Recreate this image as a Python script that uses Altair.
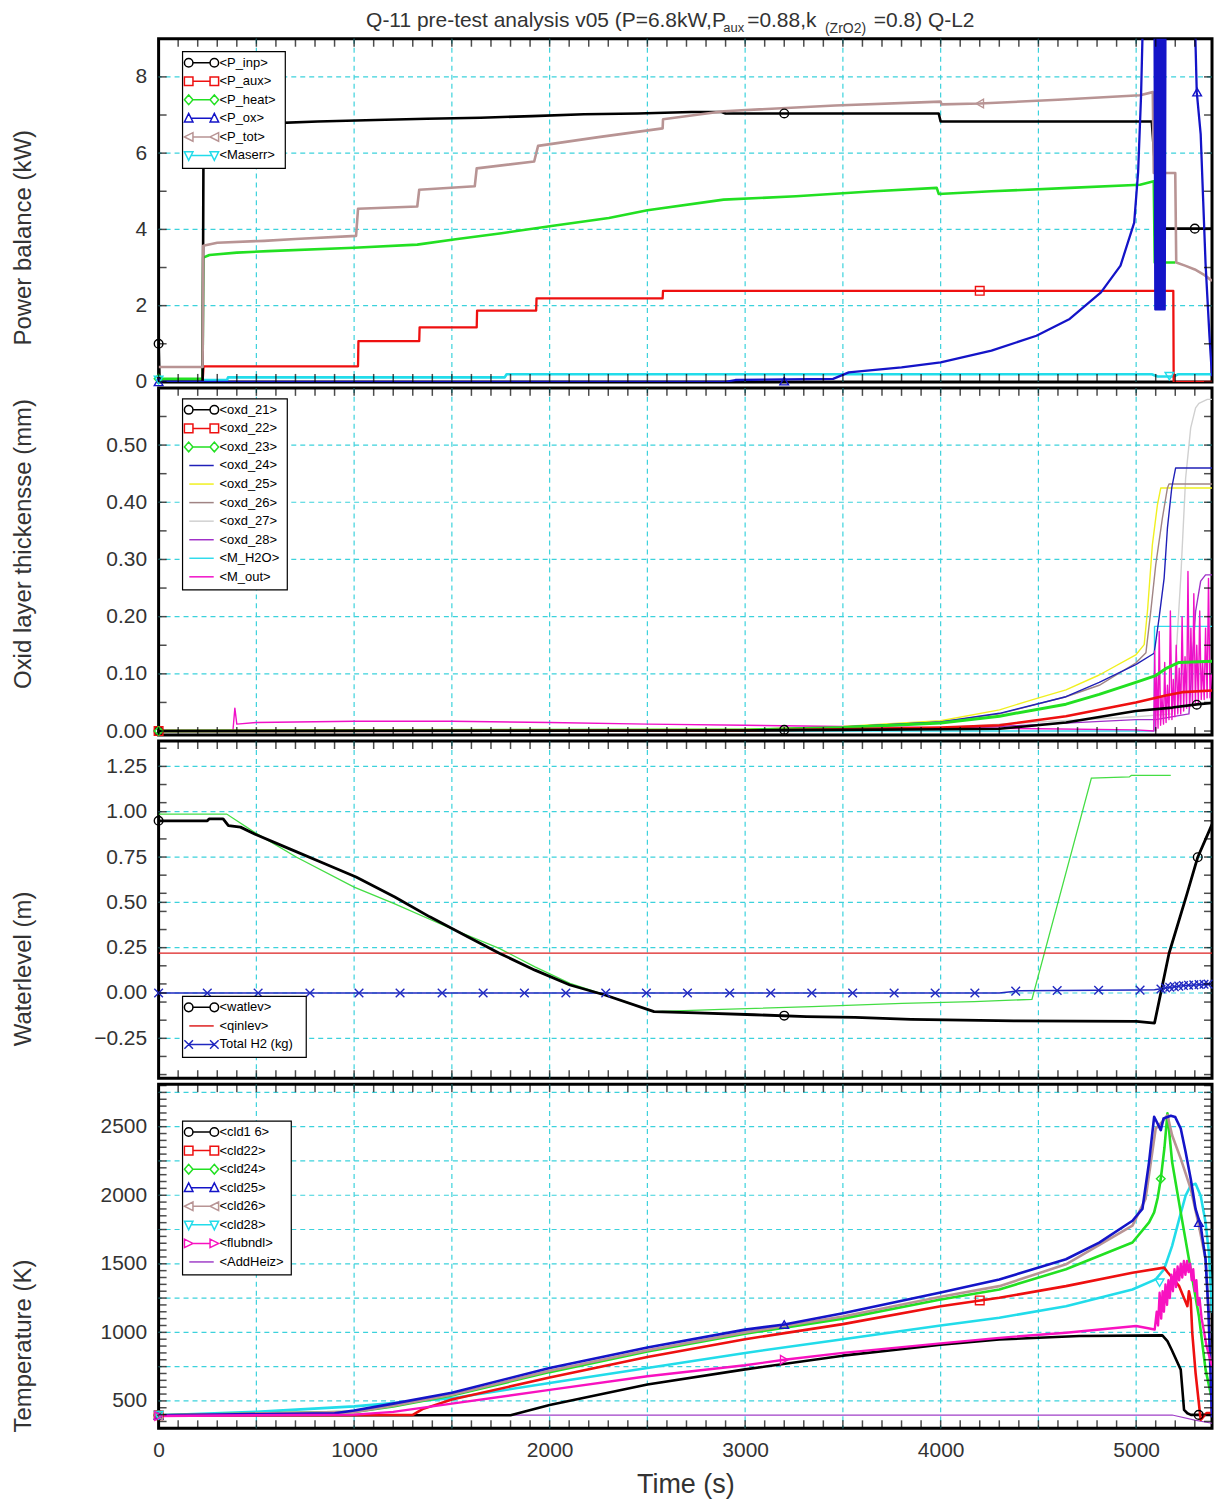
import altair as alt
import pandas as pd

FONT = "Liberation Sans"
X_MAX = 5388
GRID_COLOR = "#3cd2dc"
TEXT_COLOR = "#333333"
PLOT_W = 1056

XTICKS = [float(x) for x in range(0, 5400, 100)]
XLABELS = [float(x) for x in range(0, 5001, 1000)]
XGRID = [500.0 * k for k in range(1, 11)]

# ---------------- Panel 1 : power balance (kW) ----------------
P1_NAMES = ["<P_inp>", "<P_aux>", "<P_heat>", "<P_ox>", "<P_tot>", "<Maserr>"]
P1_COLORS = ["#000000", "#ee1010", "#22e022", "#1414c8", "#b89494", "#22dcea"]
P1_SHAPES = ["circle", "square", "diamond", "triangle-up", "triangle-left", "triangle-down"]

P_inp_t = [0, 5, 225, 230, 560, 814, 1108, 1372, 1647, 1911, 2176, 2450, 2725, 2880, 2900, 3990, 4000, 5080, 5095, 5130, 5388]
P_inp_v = [1.0, 0.0, 0.0, 6.78, 6.78, 6.83, 6.87, 6.90, 6.93, 6.97, 7.02, 7.04, 7.08, 7.08, 7.04, 7.04, 6.83, 6.83, 5.75, 4.02, 4.02]

P_aux_t = [0, 225, 230, 1020, 1022, 1333, 1335, 1627, 1629, 1931, 1933, 2578, 2580, 5190, 5192, 5388]
P_aux_v = [0.0, 0.0, 0.41, 0.41, 1.07, 1.07, 1.43, 1.43, 1.87, 1.87, 2.19, 2.19, 2.39, 2.39, 0.0, 0.0]

P_heat_t = [0, 225, 228, 260, 400, 560, 1000, 1323, 1519, 1754, 2009, 2303, 2500, 2890, 3260, 3660, 3980, 3990, 4260, 4660, 5020, 5090, 5095, 5200]
P_heat_v = [0.08, 0.08, 3.26, 3.33, 3.39, 3.43, 3.52, 3.60, 3.74, 3.90, 4.09, 4.30, 4.50, 4.78, 4.87, 5.00, 5.09, 4.93, 5.00, 5.09, 5.17, 5.26, 3.13, 3.13]

P_ox_t = [0, 2900, 2950, 3450, 3530, 3800, 4000, 4260, 4490, 4660, 4820, 4920, 4990, 5010, 5025, 5035, 5094,
          5098, 5102, 5106, 5110, 5114, 5118, 5122, 5126, 5130, 5134, 5138, 5142, 5146, 5150,
          5300, 5310, 5330, 5355, 5375, 5388]
P_ox_v = [0.0, 0.0, 0.05, 0.08, 0.25, 0.38, 0.51, 0.82, 1.21, 1.65, 2.35, 3.05, 4.18, 5.5, 7.5, 9.6, 9.6,
          1.9, 9.6, 1.9, 9.6, 1.9, 9.6, 1.9, 9.6, 1.9, 9.6, 1.9, 9.6, 1.9, 9.6,
          9.6, 7.6, 6.5, 3.1, 1.2, 0.15]

P_tot_t = [0, 225, 228, 300, 540, 700, 1010, 1020, 1323, 1333, 1617, 1627, 1921, 1941, 2250, 2578, 2580, 2890,
           3460, 4000, 4005, 4200, 4600, 5020, 5085, 5090, 5200, 5205, 5250, 5300, 5350, 5388]
P_tot_v = [0.39, 0.39, 3.57, 3.65, 3.70, 3.75, 3.83, 4.54, 4.60, 5.04, 5.13, 5.60, 5.78, 6.19, 6.42, 6.65, 6.89, 7.10,
           7.25, 7.35, 7.28, 7.30, 7.40, 7.52, 7.60, 5.48, 5.48, 3.13, 3.05, 2.95, 2.80, 2.65]

Maserr_t = [0, 350, 355, 1770, 1780, 5080, 5110, 5190, 5215, 5388]
Maserr_v = [0.05, 0.05, 0.12, 0.12, 0.20, 0.20, 0.14, 0.14, 0.20, 0.20]

# ---------------- Panel 2 : oxide layer thickness (mm) ----------------
P2_NAMES = ["<oxd_21>", "<oxd_22>", "<oxd_23>", "<oxd_24>", "<oxd_25>", "<oxd_26>", "<oxd_27>", "<oxd_28>", "<M_H2O>", "<M_out>"]
P2_COLORS = ["#000000", "#ee1010", "#22e022", "#2020b8", "#f0f020", "#a08484", "#d0d0d0", "#a030c8", "#30dcec", "#f010c8"]
P2_SHAPES = ["circle", "square", "diamond", "line", "line", "line", "line", "line", "line", "line"]

oxd21_t = [0, 3000, 3500, 4000, 4301, 4641, 4998, 5185, 5321, 5388]
oxd21_v = [0.0, 0.001, 0.002, 0.003, 0.004, 0.015, 0.035, 0.041, 0.047, 0.049]
oxd22_t = [0, 3000, 3500, 4000, 4301, 4641, 4998, 5151, 5236, 5388]
oxd22_v = [0.0, 0.001, 0.003, 0.006, 0.010, 0.026, 0.050, 0.062, 0.068, 0.071]
oxd23_t = [0, 3000, 3500, 4000, 4301, 4641, 4811, 4998, 5100, 5151, 5219, 5388]
oxd23_v = [0.0, 0.002, 0.006, 0.014, 0.026, 0.047, 0.064, 0.085, 0.097, 0.109, 0.120, 0.122]
oxd24_t = [0, 3000, 3500, 4000, 4301, 4641, 4811, 4998, 5092, 5117, 5143, 5160, 5182, 5202, 5388]
oxd24_v = [0.0, 0.002, 0.007, 0.016, 0.031, 0.060, 0.085, 0.116, 0.136, 0.197, 0.267, 0.355, 0.425, 0.460, 0.460]
oxd25_t = [0, 3000, 3500, 4000, 4301, 4471, 4641, 4811, 4998, 5041, 5058, 5083, 5109, 5126, 5388]
oxd25_v = [0.0, 0.003, 0.008, 0.018, 0.037, 0.055, 0.072, 0.098, 0.133, 0.151, 0.210, 0.326, 0.396, 0.425, 0.425]
oxd26_t = [0, 3000, 3500, 4000, 4301, 4641, 4811, 4998, 5050, 5075, 5100, 5134, 5160, 5168, 5388]
oxd26_v = [0.0, 0.002, 0.007, 0.016, 0.030, 0.060, 0.080, 0.119, 0.137, 0.210, 0.290, 0.372, 0.425, 0.432, 0.432]
oxd27_t = [0, 3000, 4000, 4301, 4998, 5185, 5202, 5228, 5253, 5279, 5304, 5321, 5364, 5388]
oxd27_v = [0.0, 0.001, 0.006, 0.012, 0.025, 0.030, 0.120, 0.267, 0.442, 0.530, 0.565, 0.573, 0.580, 0.580]
oxd28_t = [0, 3000, 4000, 4301, 4998, 5100, 5270, 5287, 5304, 5330, 5355, 5388]
oxd28_v = [0.0, 0.001, 0.005, 0.008, 0.020, 0.020, 0.030, 0.120, 0.209, 0.262, 0.273, 0.273]
MH2O_t = [0, 5092, 5094, 5388]
MH2O_v = [0.0, 0.0, 0.183, 0.183]
Mout_t = [0, 380, 390, 400, 500, 1000, 1500, 2000, 2500, 3000, 3500, 4000, 4500, 5000, 5090,
          5095, 5100, 5105, 5112, 5118, 5125, 5132, 5140, 5146, 5153, 5160, 5168, 5175, 5183, 5190,
          5198, 5205, 5213, 5220, 5228, 5235, 5243, 5250, 5258, 5265, 5273, 5280, 5288, 5295, 5303,
          5310, 5318, 5325, 5333, 5340, 5348, 5355, 5363, 5370, 5378, 5385]
Mout_v = [0.0, 0.0, 0.04, 0.012, 0.015, 0.017, 0.017, 0.015, 0.012, 0.010, 0.008, 0.006, 0.004, 0.002, 0.0,
          0.14, 0.0, 0.10, 0.005, 0.174, 0.01, 0.06, 0.012, 0.12, 0.015, 0.08, 0.02, 0.21, 0.02, 0.09,
          0.025, 0.15, 0.03, 0.11, 0.03, 0.20, 0.035, 0.13, 0.04, 0.279, 0.04, 0.18, 0.045, 0.24, 0.05,
          0.15, 0.05, 0.21, 0.055, 0.12, 0.055, 0.18, 0.058, 0.267, 0.058, 0.10]

# ---------------- Panel 3 : water level (m) ----------------
P3_NAMES = ["<watlev>", "<qinlev>", "Total H2 (kg)"]
P3_COLORS = ["#000000", "#dd2020", "#2028c0"]
P3_SHAPES = ["circle", "line", "cross"]

watlev_t = [0, 249, 258, 330, 357, 419, 491, 670, 850, 1010, 1208, 1387, 1566, 1745, 1925, 2104, 2283, 2534,
            2751, 3046, 3313, 3563, 3849, 4375, 5002, 5094, 5168, 5260, 5315, 5388]
watlev_v = [0.95, 0.95, 0.96, 0.96, 0.923, 0.915, 0.877, 0.795, 0.713, 0.64, 0.53, 0.42, 0.318, 0.218, 0.126, 0.044,
            -0.011, -0.103, -0.11, -0.12, -0.13, -0.135, -0.145, -0.154, -0.157, -0.166, 0.218, 0.547, 0.749, 0.93]
qinlev_t = [0, 5388]
qinlev_v = [0.22, 0.22]
H2_t = [0, 4300, 4400, 5000, 5094, 5150, 5250, 5388]
H2_v = [0.0, 0.0, 0.012, 0.016, 0.018, 0.028, 0.042, 0.05]
H2_mark_t = [0, 249, 509, 774, 1025, 1235, 1450, 1660, 1871, 2083, 2287, 2495, 2705, 2921, 3131, 3341, 3550, 3762,
             3972, 4175, 4384, 4596, 4808, 5020, 5127, 5150, 5172, 5195, 5218, 5242, 5268, 5295, 5322, 5347, 5368]
H2_mark_v = [0.0, 0.0, 0.0, 0.0, 0.0, 0.0, 0.0, 0.0, 0.0, 0.0, 0.0, 0.0, 0.0, 0.0, 0.0, 0.0, 0.0, 0.0,
             0.0, 0.0, 0.010, 0.014, 0.015, 0.016, 0.022, 0.028, 0.032, 0.035, 0.038, 0.041, 0.043, 0.045, 0.047, 0.048, 0.049]
green3_t = [0, 348, 491, 706, 1000, 1208, 1477, 1745, 1925, 2104, 2283, 2534, 2880, 3341, 3803, 4172, 4467, 4771, 4965, 4975, 5177]
green3_v = [0.987, 0.987, 0.886, 0.749, 0.584, 0.492, 0.364, 0.245, 0.144, 0.053, -0.011, -0.103, -0.09, -0.075,
            -0.057, -0.048, -0.035, 1.185, 1.192, 1.20, 1.20]

# ---------------- Panel 4 : temperature (K) ----------------
P4_NAMES = ["<cld1 6>", "<cld22>", "<cld24>", "<cld25>", "<cld26>", "<cld28>", "<flubndl>", "<AddHeiz>"]
P4_COLORS = ["#000000", "#ee1010", "#22e022", "#1414c8", "#b89494", "#22dcea", "#f812c0", "#a040c8"]
P4_SHAPES = ["circle", "square", "diamond", "triangle-up", "triangle-left", "triangle-down", "triangle-right", "line"]

cld16_t = [0, 1800, 2000, 2500, 3000, 3500, 4000, 4300, 4709, 5134, 5160, 5181, 5228, 5245, 5262, 5280, 5388]
cld16_v = [395, 395, 470, 620, 730, 830, 910, 948, 973, 978, 936, 875, 728, 435, 410, 398, 398]
cld22_t = [0, 1300, 1350, 1500, 2000, 2500, 3000, 3500, 4000, 4300, 4641, 4981, 5143, 5160, 5177, 5220, 5262, 5270,
           5279, 5287, 5304, 5330, 5360, 5388]
cld22_v = [395, 398, 440, 510, 670, 820, 950, 1060, 1190, 1252, 1337, 1435, 1472, 1440, 1411, 1337, 1191, 1300,
           1240, 996, 703, 362, 412, 412]
cld24_t = [0, 1000, 1200, 1500, 2000, 2500, 3000, 3500, 4000, 4300, 4641, 4981, 5066, 5092, 5110, 5126, 5145, 5160,
           5184, 5228, 5270, 5321, 5355, 5388]
cld24_v = [395, 420, 460, 540, 710, 860, 990, 1100, 1240, 1313, 1460, 1655, 1802, 1875, 1980, 2120, 2350, 2597,
           2242, 1875, 1533, 1118, 728, 508]
cld25_t = [0, 900, 1000, 1200, 1500, 2000, 2500, 3000, 3200, 3500, 4000, 4300, 4641, 4811, 4981, 5032, 5066, 5092,
           5105, 5126, 5140, 5177, 5200, 5228, 5253, 5279, 5304, 5330, 5355, 5370, 5388]
cld25_v = [395, 410, 430, 480, 560, 740, 890, 1020, 1057, 1140, 1290, 1386, 1533, 1655, 1814, 1900, 2242, 2572,
           2536, 2475, 2560, 2580, 2570, 2487, 2316, 2120, 1900, 1778, 1533, 1143, 380]
cld26_t = [0, 1000, 1200, 1500, 2000, 2500, 3000, 3500, 4000, 4300, 4641, 4981, 5048, 5100, 5134, 5160, 5184, 5228,
           5279, 5321, 5355, 5372, 5388]
cld26_v = [395, 420, 465, 545, 720, 870, 1000, 1115, 1260, 1337, 1496, 1778, 1973, 2487, 2536, 2584, 2438, 2267,
           2047, 1778, 1533, 1143, 410]
cld28_t = [0, 500, 1000, 1500, 2000, 2500, 3000, 3500, 4000, 4300, 4641, 4981, 5100, 5143, 5184, 5220, 5253, 5279,
           5304, 5330, 5355, 5372, 5388]
cld28_v = [395, 420, 460, 520, 630, 740, 850, 950, 1050, 1106, 1191, 1313, 1386, 1460, 1631, 1826, 1997, 2071,
           2084, 1997, 1802, 1582, 1143]
flubndl_t = [0, 1000, 1200, 1500, 2000, 2500, 3000, 3200, 3500, 4000, 4300, 4641, 5000, 5095,
             5105, 5112, 5120, 5128, 5135, 5142, 5150, 5158, 5165, 5172, 5180, 5188, 5196, 5204, 5212, 5220,
             5228, 5236, 5244, 5252, 5260, 5268, 5276, 5284, 5292, 5300, 5308, 5316, 5324, 5335, 5345, 5360,
             5375, 5388]
flubndl_v = [390, 400, 420, 480, 580, 680, 760, 800, 850, 920, 960, 997, 1046, 1021,
             1150, 1050, 1289, 1100, 1300, 1150, 1350, 1200, 1380, 1250, 1420, 1300, 1460, 1330, 1480, 1380,
             1500, 1400, 1520, 1420, 1521, 1440, 1500, 1380, 1460, 1300, 1380, 1200, 1250, 1100, 1021, 900,
             820, 753]
addheiz_t = [0, 5184, 5300, 5388]
addheiz_v = [397, 397, 360, 337]

# ---------------- legend symbol paths (marker - line - marker) ----------------
SYM = {
    "circle": "M-2.8,0A0.7,0.7 0 1 1 -1.4,0A0.7,0.7 0 1 1 -2.8,0M-1.4,0L1.4,0M1.4,0A0.7,0.7 0 1 1 2.8,0A0.7,0.7 0 1 1 1.4,0",
    "square": "M-2.8,-0.7L-1.4,-0.7L-1.4,0.7L-2.8,0.7ZM-1.4,0L1.4,0M1.4,-0.7L2.8,-0.7L2.8,0.7L1.4,0.7Z",
    "diamond": "M-2.8,0L-2.1,-0.8L-1.4,0L-2.1,0.8ZM-1.4,0L1.4,0M1.4,0L2.1,-0.8L2.8,0L2.1,0.8Z",
    "triangle-up": "M-2.8,0.6L-2.1,-0.8L-1.4,0.6ZM-1.7,0L1.7,0M1.4,0.6L2.1,-0.8L2.8,0.6Z",
    "triangle-down": "M-2.8,-0.6L-2.1,0.8L-1.4,-0.6ZM-1.7,0L1.7,0M1.4,-0.6L2.1,0.8L2.8,-0.6Z",
    "triangle-left": "M-2.8,0L-1.4,-0.7L-1.4,0.7ZM-1.4,0L1.4,0M1.4,0L2.8,-0.7L2.8,0.7Z",
    "triangle-right": "M-2.8,-0.7L-1.4,0L-2.8,0.7ZM-1.4,0L1.4,0M1.4,-0.7L2.8,0L1.4,0.7Z",
    "cross": "M-2.8,-0.7L-1.4,0.7M-2.8,0.7L-1.4,-0.7M-2.1,0L2.1,0M1.4,-0.7L2.8,0.7M1.4,0.7L2.8,-0.7",
    "line": "M-2.0,0L2.0,0",
}
XMARK = "M-1,-1L1,1M-1,1L1,-1"
ONE = pd.DataFrame({"a": [0]})


def build_df(names, ts, vs, widths):
    rows = []
    for name, t, v, w in zip(names, ts, vs, widths):
        for i, (a, b) in enumerate(zip(t, v)):
            rows.append({"series": name, "t": float(a), "v": float(b), "i": i, "w": w})
    return pd.DataFrame(rows)


def legend_layers(lx, ly, width, names, colors, shapes):
    n = len(names)
    step = 18.6
    h = 11 + step * (n - 1) + 13
    out = [alt.Chart(ONE).mark_rect(fill="white", stroke="black", strokeWidth=1.2).encode(
        x=alt.value(lx), x2=alt.value(lx + width), y=alt.value(ly), y2=alt.value(ly + h))]
    for k, (name, col, shp) in enumerate(zip(names, colors, shapes)):
        yk = ly + 11 + step * k
        out.append(alt.Chart(ONE).mark_point(shape=SYM[shp], size=150, filled=False, color=col,
                                             strokeWidth=1.5, opacity=1).encode(
            x=alt.value(lx + 19), y=alt.value(yk)))
        out.append(alt.Chart(ONE).mark_text(text=name, align="left", baseline="middle", font=FONT,
                                            fontSize=13, color="black").encode(
            x=alt.value(lx + 37), y=alt.value(yk)))
    return out


def panel(df, names, colors, shapes, markers, ydom, yticks, ylabels, fmt, ygrid, ytitle, title_y,
          leg_x, leg_y, leg_w, height, bottom, extra=None, texts=None):
    xs = alt.Scale(domain=[0, X_MAX], nice=False, zero=False)
    ys = alt.Scale(domain=ydom, nice=False, zero=False)
    cscale = alt.Scale(domain=names, range=colors)

    if bottom:
        x_axis = alt.Axis(orient="bottom", values=XLABELS, ticks=False, domain=False, grid=False,
                          format="d", labelFont=FONT, labelFontSize=21, labelColor=TEXT_COLOR,
                          labelPadding=11, labelOverlap=False, labelFlush=False,
                          title="Time (s)", titleFont=FONT, titleFontSize=27,
                          titleFontWeight="normal", titleColor=TEXT_COLOR, titlePadding=11)
    else:
        x_axis = None
    y_axis = alt.Axis(orient="left", values=ylabels, ticks=False, domain=False, grid=False, format=fmt,
                      labelFont=FONT, labelFontSize=21, labelColor=TEXT_COLOR, labelPadding=12,
                      labelOverlap=False, labelFlush=False,
                      title=ytitle, titleFont=FONT, titleFontSize=24, titleFontWeight="normal",
                      titleColor=TEXT_COLOR, titleAngle=270, titleX=-135, titleY=title_y,
                      titleAlign="center", titleBaseline="middle")

    under = [
        alt.Chart(pd.DataFrame({"t": XGRID})).mark_rule(
            color=GRID_COLOR, strokeDash=[5, 4], strokeWidth=1.2).encode(x=alt.X("t:Q", scale=xs, axis=None)),
        alt.Chart(pd.DataFrame({"v": ygrid})).mark_rule(
            color=GRID_COLOR, strokeDash=[5, 4], strokeWidth=1.2).encode(y=alt.Y("v:Q", scale=ys, axis=None)),
    ]
    if extra is not None:
        for e in extra:
            under.append(e(xs, ys))
    layers = [alt.Chart(df).mark_line(clip=True, strokeJoin="round").encode(
        x=alt.X("t:Q", scale=xs, axis=x_axis),
        y=alt.Y("v:Q", scale=ys, axis=y_axis),
        color=alt.Color("series:N", scale=cscale, legend=None),
        strokeWidth=alt.StrokeWidth("w:Q", scale=None),
        detail="series:N",
        order=alt.Order("i:Q"))]
    for (name, shp, col, mt, mv) in markers:
        mdf = pd.DataFrame({"t": [float(a) for a in mt], "v": [float(b) for b in mv]})
        layers.append(alt.Chart(mdf).mark_point(shape=shp, filled=False, color=col, size=75,
                                                 strokeWidth=1.4, opacity=1).encode(
            x=alt.X("t:Q", scale=xs, axis=None), y=alt.Y("v:Q", scale=ys, axis=None)))
    # inward ticks on all four sides
    xt = pd.DataFrame({"t": XTICKS})
    yt = pd.DataFrame({"v": [float(v) for v in yticks]})
    for ypos in (4, height - 4):
        layers.append(alt.Chart(xt).mark_tick(orient="vertical", size=8, thickness=1.5, color="black").encode(
            x=alt.X("t:Q", scale=xs, axis=None), y=alt.value(ypos)))
    for xpos in (4, PLOT_W - 4):
        layers.append(alt.Chart(yt).mark_tick(orient="horizontal", size=8, thickness=1.5, color="black").encode(
            y=alt.Y("v:Q", scale=ys, axis=None), x=alt.value(xpos)))
    layers.extend(legend_layers(leg_x, leg_y, leg_w, names, colors, shapes))
    if texts is not None:
        for (txt, px, py, fs) in texts:
            layers.append(alt.Chart(ONE).mark_text(
                text=txt, align="left", baseline="alphabetic", font=FONT, fontSize=fs,
                color=TEXT_COLOR).encode(x=alt.value(px), y=alt.value(py)))
    return alt.layer(*(under + layers)).resolve_axis(x="independent", y="independent").properties(
        width=PLOT_W, height=height)


# ---- panel 1 ----
df1 = build_df(P1_NAMES, [P_inp_t, P_aux_t, P_heat_t, P_ox_t, P_tot_t, Maserr_t],
               [P_inp_v, P_aux_v, P_heat_v, P_ox_v, P_tot_v, Maserr_v],
               [2.6, 2.3, 2.6, 2.3, 2.6, 2.6])
df1 = pd.concat([df1[df1.series == s] for s in ["<Maserr>", "<P_heat>", "<P_aux>", "<P_inp>", "<P_tot>", "<P_ox>"]])
m1 = [("<P_inp>", "circle", "#000000", [0, 3200, 5300], [1.0, 7.04, 4.02]),
      ("<P_aux>", "square", "#ee1010", [4200], [2.39]),
      ("<P_heat>", "diamond", "#22e022", [0], [0.08]),
      ("<P_ox>", "triangle-up", "#1414c8", [0, 3200, 5312], [0.0, 0.02, 7.6]),
      ("<P_tot>", "triangle-left", "#b89494", [4200], [7.30]),
      ("<Maserr>", "triangle-down", "#22dcea", [0, 5170], [0.05, 0.15])]
title_texts = [("Q-11 pre-test analysis v05 (P=6.8kW,P", 208, -12, 21),
               ("aux", 566, -7, 13),
               ("=0.88,k", 590, -12, 21),
               ("(ZrO2)", 668, -6, 14),
               ("=0.8) Q-L2", 717, -12, 21)]
p1 = panel(df1, P1_NAMES, P1_COLORS, P1_SHAPES, m1,
           [0, 9], list(range(0, 10)), [0.0, 2.0, 4.0, 6.0, 8.0], "d",
           [2.0, 4.0, 6.0, 8.0], "Power balance (kW)", 199, 24, 13, 103, 344, False, texts=title_texts)

# ---- panel 2 ----
df2 = build_df(P2_NAMES,
               [oxd21_t, oxd22_t, oxd23_t, oxd24_t, oxd25_t, oxd26_t, oxd27_t, oxd28_t, MH2O_t, Mout_t],
               [oxd21_v, oxd22_v, oxd23_v, oxd24_v, oxd25_v, oxd26_v, oxd27_v, oxd28_v, MH2O_v, Mout_v],
               [2.6, 2.6, 3.0, 1.4, 1.4, 1.4, 1.4, 1.4, 1.4, 1.4])
df2 = pd.concat([df2[df2.series == s] for s in ["<oxd_27>", "<M_H2O>", "<oxd_28>", "<oxd_25>", "<oxd_26>", "<oxd_24>",
                                                 "<M_out>", "<oxd_23>", "<oxd_22>", "<oxd_21>"]])
m2 = [("<oxd_21>", "circle", "#000000", [0, 3200, 5310], [0.0, 0.002, 0.046]),
      ("<oxd_22>", "square", "#ee1010", [0], [0.0]),
      ("<oxd_23>", "diamond", "#22e022", [0], [0.0])]
p2 = panel(df2, P2_NAMES, P2_COLORS, P2_SHAPES, m2,
           [-0.007, 0.6], [round(0.05 * k, 3) for k in range(0, 13)], [0.0, 0.1, 0.2, 0.3, 0.4, 0.5], ".2f",
           [0.1, 0.2, 0.3, 0.4, 0.5], "Oxid layer thickensse (mm)", 156, 24, 11, 105, 348, False)

# ---- panel 3 ----
df3 = build_df(P3_NAMES, [watlev_t, qinlev_t, H2_t], [watlev_v, qinlev_v, H2_v], [2.8, 1.2, 1.5])
df3 = pd.concat([df3[df3.series == s] for s in ["<qinlev>", "Total H2 (kg)", "<watlev>"]])
m3 = [("<watlev>", "circle", "#000000", [0, 3200, 5315], [0.95, -0.125, 0.749]),
      ("Total H2 (kg)", XMARK, "#2028c0", H2_mark_t, H2_mark_v)]
green3_df = pd.DataFrame({"t": [float(a) for a in green3_t], "v": green3_v, "i": list(range(len(green3_t)))})


def green_layer(xs, ys):
    return alt.Chart(green3_df).mark_line(color="#44dd44", strokeWidth=1.3, clip=True).encode(
        x=alt.X("t:Q", scale=xs, axis=None), y=alt.Y("v:Q", scale=ys, axis=None), order=alt.Order("i:Q"))


ticks3 = sorted(set([round(-0.45 + 0.1 * k, 3) for k in range(0, 19)] + [-0.25, 0.0, 0.25, 0.5, 0.75, 1.0, 1.25]))
p3 = panel(df3, P3_NAMES, P3_COLORS, P3_SHAPES, m3,
           [-0.47, 1.39], ticks3, [-0.25, 0.0, 0.25, 0.5, 0.75, 1.0, 1.25], ".2f",
           [-0.25, 0.0, 0.25, 0.5, 0.75, 1.0, 1.25], "Waterlevel (m)", 228, 24, 256, 124, 338, False,
           extra=[green_layer])

# ---- panel 4 ----
df4 = build_df(P4_NAMES, [cld16_t, cld22_t, cld24_t, cld25_t, cld26_t, cld28_t, flubndl_t, addheiz_t],
               [cld16_v, cld22_v, cld24_v, cld25_v, cld26_v, cld28_v, flubndl_v, addheiz_v],
               [2.6, 2.6, 2.6, 2.6, 2.6, 2.6, 2.4, 1.2])
df4 = pd.concat([df4[df4.series == s] for s in ["<AddHeiz>", "<cld1 6>", "<cld28>", "<cld22>", "<cld24>", "<cld26>",
                                                 "<cld25>", "<flubndl>"]])
m4 = [("<cld1 6>", "circle", "#000000", [0, 5320], [395, 398]),
      ("<cld22>", "square", "#ee1010", [0, 4200], [395, 1233]),
      ("<cld24>", "diamond", "#22e022", [0, 5126], [395, 2120]),
      ("<cld25>", "triangle-up", "#1414c8", [0, 3200, 5321], [395, 1057, 1800]),
      ("<cld26>", "triangle-left", "#b89494", [0], [395]),
      ("<cld28>", "triangle-down", "#22dcea", [0, 5120], [395, 1362]),
      ("<flubndl>", "triangle-right", "#f812c0", [0, 3200], [390, 800])]
p4 = panel(df4, P4_NAMES, P4_COLORS, P4_SHAPES, m4,
           [300, 2810], list(range(300, 2811, 50)), [500.0, 1000.0, 1500.0, 2000.0, 2500.0], "d",
           [float(v) for v in range(500, 2800, 250)], "Temperature (K)", 262, 24, 37, 109, 345, True)

chart = alt.vconcat(p1, p2, p3, p4, spacing=6, bounds="flush").resolve_scale(
    x="independent", y="independent", color="independent"
).properties(
    padding={"left": 10, "top": 6, "right": 0, "bottom": 0}, background="white"
).configure_view(stroke="black", strokeWidth=3)

chart.save("out.html", embed_options={"renderer": "svg", "actions": False})
